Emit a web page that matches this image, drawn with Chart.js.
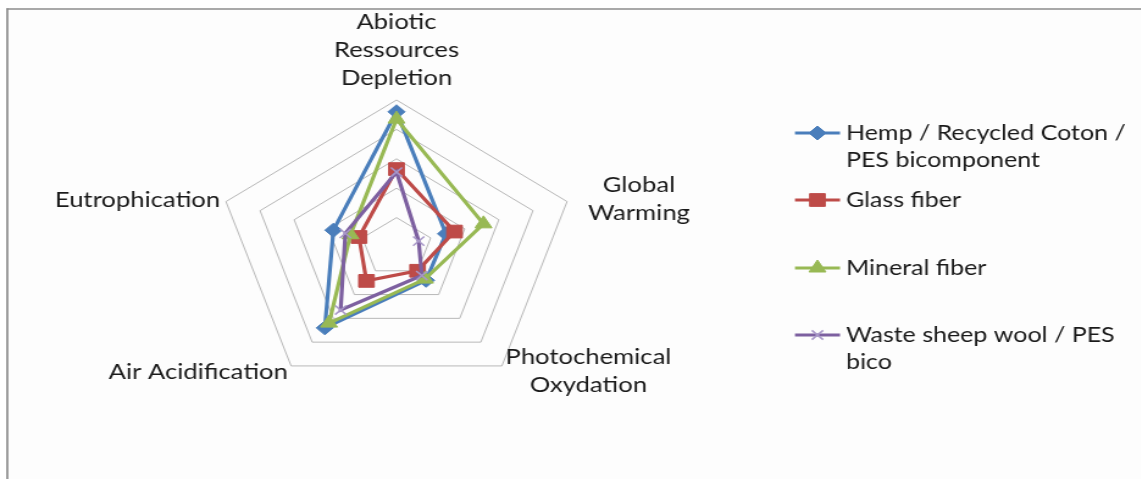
<!DOCTYPE html>
<html>
<head>
<meta charset="utf-8">
<script src="https://cdn.jsdelivr.net/npm/chart.js@4.4.1/dist/chart.umd.min.js"></script>
<style>
  html, body { margin: 0; padding: 0; background: #ffffff; overflow: hidden; }
  /* the chart is laid out on a narrower canvas and widened to the page width */
  #wrap { position: absolute; left: 0; top: 0; width: 935px; height: 479px;
          transform: scaleX(1.22); transform-origin: 0 0; }
</style>
</head>
<body>
<div id="wrap"><canvas id="chart" width="935" height="479"></canvas></div>
<script>
// ---- data -------------------------------------------------------------
const categories = [
  ['Abiotic', 'Ressources', 'Depletion'],
  ['Global', 'Warming'],
  ['Photochemical', 'Oxydation'],
  'Air Acidification',
  'Eutrophication'
];
const seriesNames = [
  'Hemp / Recycled Coton / PES bicomponent',
  'Glass fiber',
  'Mineral fiber',
  'Waste sheep wool / PES bico'
];
const hempValues    = [92, 29, 28, 68, 37];
const glassValues   = [53, 34, 20, 28.5, 22];
const mineralValues = [87, 51, 27, 64, 27];
const woolValues    = [51, 13, 24, 53, 30];
const axisMin = 0;
const axisMax = 100;
const axisStep = 20;

// ---- styles -----------------------------------------------------------
const AXIS_FONT = '21px Lato, "Open Sans", sans-serif';
const LEGEND_FONT = '20.5px Lato, "Open Sans", sans-serif';
const TEXT_COLOR = '#1a1a1a';
const seriesStyles = [
  { color: '#4A7EBB', pointStyle: 'rectRot',  radius: 7,   pointColor: '#4A7EBB', pointBorder: 1 },
  { color: '#BE4B48', pointStyle: 'rect',     radius: 9,   pointColor: '#BE4B48', pointBorder: 1 },
  { color: '#98B954', pointStyle: 'triangle', radius: 8,   pointColor: '#98B954', pointBorder: 1 },
  { color: '#7D60A0', pointStyle: 'crossRot', radius: 6.5, pointColor: '#A898C8', pointBorder: 1.5 }
];
const seriesValues = [hempValues, glassValues, mineralValues, woolValues];
const SERIES_LINE_WIDTH = 3.2;

// where each axis title sits relative to the end of its spoke
const labelPlacement = [
  { gap: 8,   align: 'center', valign: 'bottom', dy: 0 },
  { gap: 18,  align: 'left',   valign: 'middle', dy: 3 },
  { gap: 5,   align: 'left',   valign: 'middle', dy: 1 },
  { gap: 4.5, align: 'right',  valign: 'middle', dy: 2.5 },
  { gap: 5,   align: 'right',  valign: 'middle', dy: 0 }
];
const LABEL_LINE_HEIGHT = 28;

const legendLayout = {
  lineX0: 651.6, lineX1: 688.5, textX: 693.4,
  rowY: [133, 200, 268, 335], lineHeight: 27, wrapWidth: 240
};

// ---- plugins ----------------------------------------------------------
const framePlugin = {
  id: 'frame',
  beforeDraw(chart) {
    const ctx = chart.ctx;
    ctx.save();
    ctx.fillStyle = '#ffffff';
    ctx.fillRect(0, 0, chart.width, chart.height);
    ctx.fillStyle = '#fdfdfd';
    ctx.fillRect(6, 9, chart.width - 6, chart.height - 9);
    ctx.strokeStyle = '#8c8c8c';
    ctx.lineWidth = 1.5;
    ctx.beginPath();
    ctx.moveTo(5.5, 9);
    ctx.lineTo(chart.width, 9);
    ctx.stroke();
    ctx.lineWidth = 1.7;
    ctx.beginPath();
    ctx.moveTo(6, 8.3);
    ctx.lineTo(6, chart.height);
    ctx.stroke();
    ctx.restore();
  }
};

function wrapText(ctx, text, maxWidth) {
  const words = text.split(' ');
  const lines = [];
  let cur = '';
  words.forEach(w => {
    const test = cur ? cur + ' ' + w : w;
    if (cur && ctx.measureText(test).width > maxWidth) {
      lines.push(cur);
      cur = w;
    } else {
      cur = test;
    }
  });
  if (cur) lines.push(cur);
  return lines;
}

const axisTitlePlugin = {
  id: 'axisTitles',
  afterDraw(chart) {
    const scale = chart.scales.r;
    const ctx = chart.ctx;
    ctx.save();
    ctx.font = AXIS_FONT;
    ctx.fillStyle = TEXT_COLOR;
    ctx.textBaseline = 'middle';
    ctx.textAlign = 'center';
    chart.data.labels.forEach((label, i) => {
      const lines = Array.isArray(label) ? label : [label];
      const place = labelPlacement[i];
      const p = scale.getPointPosition(i, scale.drawingArea + place.gap);
      const blockW = Math.max(...lines.map(l => ctx.measureText(l).width));
      const blockH = lines.length * LABEL_LINE_HEIGHT;
      let cx = p.x;
      if (place.align === 'left') cx = p.x + blockW / 2;
      if (place.align === 'right') cx = p.x - blockW / 2;
      let top = place.valign === 'bottom' ? p.y - blockH : p.y - blockH / 2;
      top += place.dy;
      lines.forEach((l, k) => {
        ctx.fillText(l, cx, top + LABEL_LINE_HEIGHT * (k + 0.5));
      });
    });
    ctx.restore();
  }
};

const sideLegendPlugin = {
  id: 'sideLegend',
  afterDraw(chart) {
    const ctx = chart.ctx;
    const L = legendLayout;
    ctx.save();
    ctx.font = LEGEND_FONT;
    ctx.textBaseline = 'middle';
    ctx.textAlign = 'left';
    chart.data.datasets.forEach((ds, i) => {
      const y = L.rowY[i];
      ctx.strokeStyle = ds.borderColor;
      ctx.lineWidth = ds.borderWidth;
      ctx.beginPath();
      ctx.moveTo(L.lineX0, y);
      ctx.lineTo(L.lineX1, y);
      ctx.stroke();
      ctx.fillStyle = ds.pointBackgroundColor;
      ctx.strokeStyle = ds.pointBorderColor;
      ctx.lineWidth = ds.pointBorderWidth;
      Chart.helpers.drawPoint(ctx, {
        pointStyle: ds.pointStyle, radius: ds.pointRadius, rotation: 0,
        borderWidth: ds.pointBorderWidth
      }, (L.lineX0 + L.lineX1) / 2, y);
      ctx.fillStyle = TEXT_COLOR;
      wrapText(ctx, ds.label, L.wrapWidth).forEach((line, k) => {
        ctx.fillText(line, L.textX, y + k * L.lineHeight);
      });
    });
    ctx.restore();
  }
};

// ---- chart ------------------------------------------------------------
const datasets = seriesNames.map((name, i) => {
  const s = seriesStyles[i];
  return {
    label: name,
    data: seriesValues[i],
    borderColor: s.color,
    borderWidth: SERIES_LINE_WIDTH,
    fill: false,
    pointStyle: s.pointStyle,
    pointRadius: s.radius,
    pointHoverRadius: s.radius,
    pointBackgroundColor: s.pointColor,
    pointBorderColor: s.pointColor,
    pointBorderWidth: s.pointBorder,
    order: seriesNames.length - i
  };
});

new Chart(document.getElementById('chart'), {
  type: 'radar',
  data: { labels: categories, datasets },
  options: {
    responsive: false,
    animation: false,
    layout: { padding: { left: 178, top: 100, right: 462, bottom: 84 } },
    elements: { line: { tension: 0 } },
    plugins: { legend: { display: false }, tooltip: { enabled: false } },
    scales: {
      r: {
        min: axisMin,
        max: axisMax,
        ticks: { display: false, stepSize: axisStep },
        grid: { color: '#b8b8b8', lineWidth: 1 },
        angleLines: { display: false },
        pointLabels: { display: false }
      }
    }
  },
  plugins: [framePlugin, axisTitlePlugin, sideLegendPlugin]
});
</script>
</body>
</html>
